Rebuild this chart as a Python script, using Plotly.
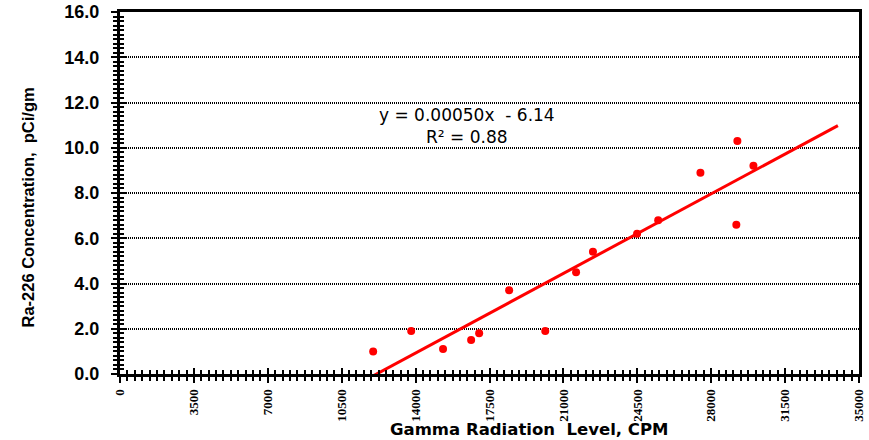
import numpy as np
import plotly.graph_objects as go

# Data
gamma_cpm = [11990, 13790, 15300, 16630, 17010, 18430, 20140, 21600, 22400,
             24490, 25490, 27490, 29240, 29190, 30000]
ra226 = [1.0, 1.9, 1.1, 1.5, 1.8, 3.7, 1.9, 4.5, 5.4, 6.2, 6.8, 8.9, 10.3, 6.6, 9.2]
x_ticks = [0, 3500, 7000, 10500, 14000, 17500, 21000, 24500, 28000, 31500, 35000]
y_ticks = [0, 2, 4, 6, 8, 10, 12, 14, 16]
trend_end_x = 34000
equation_text = "y = 0.00050x  - 6.14<br>R² = 0.88"
x_title = "Gamma Radiation  Level, CPM"
y_title = "Ra-226 Concentration,  pCi/gm"

# Linear trendline fitted to the data
slope, intercept = np.polyfit(gamma_cpm, ra226, 1)
tx = np.array([min(gamma_cpm), trend_end_x])
ty = slope * tx + intercept

fig = go.Figure()
fig.add_trace(go.Scatter(x=tx, y=ty, mode="lines",
                         line=dict(color="#FF0000", width=3),
                         showlegend=False, hoverinfo="skip"))
fig.add_trace(go.Scatter(x=gamma_cpm, y=ra226, mode="markers",
                         marker=dict(color="#FF0000", size=8, line=dict(width=0)),
                         showlegend=False))
# dummy trace on overlay axes (for cross ticks)
fig.add_trace(go.Scatter(x=[None], y=[None], xaxis="x2", yaxis="y2",
                         showlegend=False, hoverinfo="skip"))

fig.add_annotation(x=16437, y=10.96, xref="x", yref="y", text=equation_text,
                   showarrow=False, align="center",
                   font=dict(family="DejaVu Sans", size=17, color="black"))

# axis titles
fig.add_annotation(x=(529 - 120) / 739, y=0, xref="paper", yref="paper",
                   yshift=-55, yanchor="middle", xanchor="center", showarrow=False,
                   text=x_title,
                   font=dict(family="DejaVu Sans", size=16.5, color="black", weight="bold"))
fig.add_annotation(x=0, y=(374 - 207.5) / 362, xref="paper", yref="paper",
                   xshift=-93, xanchor="center", yanchor="middle", textangle=-90,
                   showarrow=False, text=y_title,
                   font=dict(family="Liberation Sans, Arial", size=16.5, color="black",
                             weight="bold"))

fig.update_layout(
    width=869, height=440,
    margin=dict(l=120, r=10, t=12, b=66, autoexpand=False),
    paper_bgcolor="white", plot_bgcolor="white",
    xaxis=dict(range=[0, 35000], tickvals=x_ticks, ticktext=[str(v) for v in x_ticks],
               tickangle=-90, ticks="outside", ticklen=6, tickwidth=2, tickcolor="black",
               tickfont=dict(family="Liberation Serif, Times New Roman", size=13,
                             color="black", weight="bold"),
               ticklabelstandoff=1,
               minor=dict(dtick=350, ticks="outside", ticklen=4, tickwidth=2, tickcolor="black"),
               showline=True, linewidth=3, linecolor="black", mirror=True,
               showgrid=False, zeroline=False, automargin=False),
    yaxis=dict(range=[0, 16], tickvals=y_ticks, ticktext=[f"{v:.1f}" for v in y_ticks],
               ticks="outside", ticklen=6, tickwidth=2, tickcolor="black",
               tickfont=dict(family="Liberation Sans, Arial", size=18,
                             color="black", weight="bold"),
               ticklabelstandoff=8,
               minor=dict(dtick=0.2, ticks="outside", ticklen=4, tickwidth=2, tickcolor="black"),
               showline=True, linewidth=3, linecolor="black", mirror=True,
               showgrid=True, gridcolor="black", gridwidth=2, griddash="1px,1px",
               zeroline=False, automargin=False),
    xaxis2=dict(overlaying="x", anchor="y", side="bottom", range=[0, 35000],
                tickvals=x_ticks, ticks="inside", ticklen=6, tickwidth=2, tickcolor="black",
                minor=dict(dtick=350, ticks="inside", ticklen=4, tickwidth=2, tickcolor="black"),
                showticklabels=False, showgrid=False, zeroline=False, showline=False),
    yaxis2=dict(overlaying="y", anchor="x", side="left", range=[0, 16],
                tickvals=y_ticks, ticks="inside", ticklen=6, tickwidth=2, tickcolor="black",
                minor=dict(dtick=0.2, ticks="inside", ticklen=4, tickwidth=2, tickcolor="black"),
                showticklabels=False, showgrid=False, zeroline=False, showline=False),
)

fig.write_html("out.html")
